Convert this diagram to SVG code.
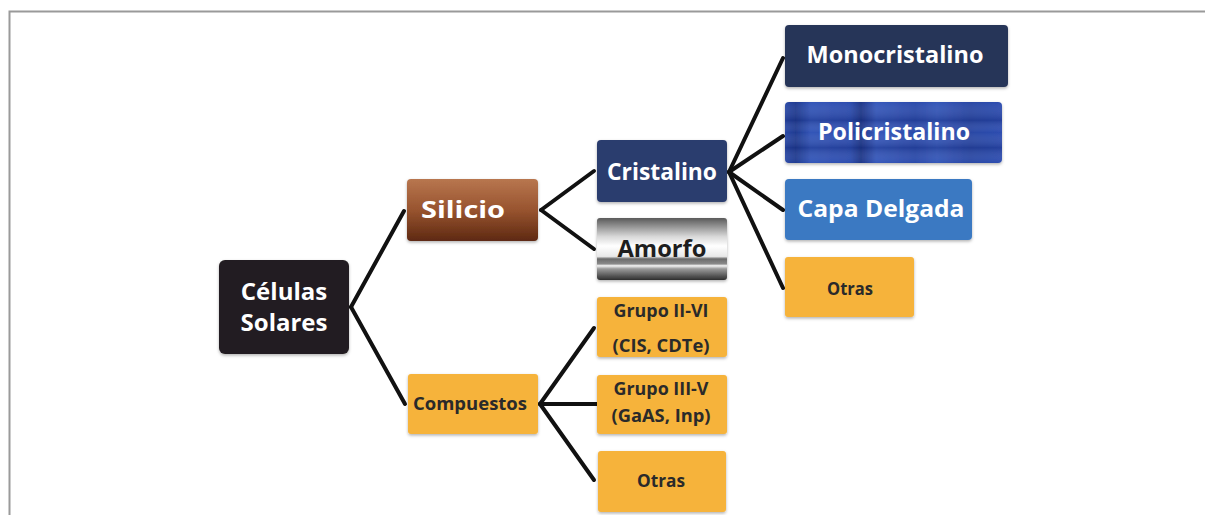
<svg xmlns="http://www.w3.org/2000/svg" width="1205" height="515" viewBox="0 0 1205 515">
<defs>
<linearGradient id="gSil" x1="0" y1="0" x2="0" y2="1">
<stop offset="0" stop-color="#b8764f"/><stop offset="0.5" stop-color="#98542f"/><stop offset="1" stop-color="#5e2912"/>
</linearGradient>
<linearGradient id="gAmo" x1="0" y1="0" x2="0" y2="1">
<stop offset="0" stop-color="#5a5a5a"/><stop offset="0.3" stop-color="#d8d8d8"/><stop offset="0.45" stop-color="#ffffff"/>
<stop offset="0.62" stop-color="#e8e8e8"/><stop offset="0.66" stop-color="#6a6a6a"/><stop offset="0.74" stop-color="#8a8a8a"/>
<stop offset="0.77" stop-color="#f4f4f4"/><stop offset="0.82" stop-color="#9a9a9a"/><stop offset="1" stop-color="#2e2e2e"/>
</linearGradient>
<linearGradient id="gPol" x1="0" y1="0" x2="1" y2="0">
<stop offset="0" stop-color="#2a48a6"/><stop offset="0.05" stop-color="#1f3a90"/><stop offset="0.12" stop-color="#3355b8"/>
<stop offset="0.3" stop-color="#2c4cae"/><stop offset="0.35" stop-color="#1e3688"/><stop offset="0.42" stop-color="#3658bb"/>
<stop offset="0.6" stop-color="#2b4aaa"/><stop offset="0.7" stop-color="#3456b8"/><stop offset="0.85" stop-color="#2a47a4"/><stop offset="1" stop-color="#2d4db0"/>
</linearGradient>
<linearGradient id="gPolH" x1="0" y1="0" x2="0" y2="1">
<stop offset="0" stop-color="#ffffff" stop-opacity="0"/><stop offset="0.3" stop-color="#0a1a60" stop-opacity="0.25"/>
<stop offset="0.5" stop-color="#ffffff" stop-opacity="0"/><stop offset="0.75" stop-color="#0a1a60" stop-opacity="0.25"/><stop offset="1" stop-color="#ffffff" stop-opacity="0"/>
</linearGradient>
<filter id="sh" x="-10%" y="-10%" width="120%" height="130%">
<feDropShadow dx="0" dy="1.5" stdDeviation="1.5" flood-color="#000" flood-opacity="0.3"/>
</filter>
</defs>
<style>
.box{filter:url(#sh)}
.big{font-family:"Open Sans","Noto Sans","Liberation Sans",sans-serif;font-weight:bold;font-size:24px;text-anchor:middle}
.sm{font-family:"Open Sans","Noto Sans","Liberation Sans",sans-serif;font-weight:bold;font-size:17px;text-anchor:middle;fill:#2a2a2a}
.w{fill:#ffffff}
.con line{stroke:#111;stroke-width:4;stroke-linecap:round}
</style>
<rect x="0" y="0" width="1205" height="515" fill="#ffffff"/>
<path d="M9.5 515 V11.5 H1205" fill="none" stroke="#9a9a9a" stroke-width="2"/>

<g id="connectors" class="con">
<line x1="351" y1="307" x2="404" y2="211"/>
<line x1="351" y1="307" x2="405" y2="404"/>
<line x1="541" y1="210" x2="594" y2="171"/>
<line x1="541" y1="210" x2="594" y2="249"/>
<line x1="729" y1="172" x2="783" y2="58"/>
<line x1="729" y1="172" x2="783" y2="136"/>
<line x1="729" y1="172" x2="783" y2="210"/>
<line x1="729" y1="172" x2="783" y2="288"/>
<line x1="540" y1="404" x2="594" y2="328"/>
<line x1="540" y1="404" x2="597" y2="404"/>
<line x1="540" y1="404" x2="594" y2="480"/>
</g>

<g id="celulas">
<rect class="box" x="219" y="260" width="130" height="94" rx="6" fill="#231f20"/>
<text class="big w" x="284" y="300" font-size="25">Células</text>
<text class="big w" x="284" y="331" font-size="25">Solares</text>
</g>
<g id="silicio">
<rect class="box" x="407" y="179" width="131" height="62" rx="4" fill="url(#gSil)"/>
<text class="big w" x="463" y="218" textLength="84" lengthAdjust="spacingAndGlyphs">Silicio</text>
</g>
<g id="compuestos">
<rect class="box" x="408" y="374" width="130" height="60" rx="3" fill="#f6b33b"/>
<text class="sm" x="470" y="410" textLength="114" lengthAdjust="spacingAndGlyphs">Compuestos</text>
</g>
<g id="cristalino">
<rect class="box" x="597" y="140" width="130" height="62" rx="4" fill="#2c3d6e"/>
<text class="big w" x="662" y="180" textLength="110" lengthAdjust="spacingAndGlyphs">Cristalino</text>
</g>
<g id="amorfo">
<rect class="box" x="597" y="218" width="130" height="62" rx="3" fill="url(#gAmo)"/>
<text class="big" x="662" y="257" fill="#1e1e1e" textLength="89" lengthAdjust="spacingAndGlyphs">Amorfo</text>
</g>
<g id="grupo2-6">
<rect class="box" x="597" y="297" width="130" height="60" rx="3" fill="#f6b33b"/>
<text class="sm" x="661" y="317" textLength="95" lengthAdjust="spacingAndGlyphs">Grupo II-VI</text>
<text class="sm" x="661" y="352" textLength="97" lengthAdjust="spacingAndGlyphs">(CIS, CDTe)</text>
</g>
<g id="grupo3-5">
<rect class="box" x="597" y="375" width="130" height="59" rx="3" fill="#f6b33b"/>
<text class="sm" x="661" y="395" textLength="95" lengthAdjust="spacingAndGlyphs">Grupo III-V</text>
<text class="sm" x="661" y="422" textLength="99" lengthAdjust="spacingAndGlyphs">(GaAS, Inp)</text>
</g>
<g id="otras2">
<rect class="box" x="598" y="451" width="128" height="61" rx="3" fill="#f6b33b"/>
<text class="sm" x="661" y="487" textLength="48" lengthAdjust="spacingAndGlyphs">Otras</text>
</g>
<g id="monocristalino">
<rect class="box" x="785" y="25" width="223" height="62" rx="4" fill="#273459"/>
<text class="big w" x="895" y="63" textLength="177" lengthAdjust="spacingAndGlyphs">Monocristalino</text>
</g>
<g id="policristalino">
<rect class="box" x="785" y="102" width="217" height="61" rx="4" fill="url(#gPol)"/>
<rect x="785" y="102" width="217" height="61" rx="4" fill="url(#gPolH)"/>
<text class="big w" x="894" y="140" textLength="152" lengthAdjust="spacingAndGlyphs">Policristalino</text>
</g>
<g id="capadelgada">
<rect class="box" x="785" y="179" width="187" height="61" rx="4" fill="#3b79c2"/>
<text class="big w" x="881" y="217" textLength="167" lengthAdjust="spacingAndGlyphs">Capa Delgada</text>
</g>
<g id="otras1">
<rect class="box" x="785" y="257" width="129" height="60" rx="3" fill="#f6b33b"/>
<text class="sm" x="850" y="295" textLength="46" lengthAdjust="spacingAndGlyphs">Otras</text>
</g>
</svg>
